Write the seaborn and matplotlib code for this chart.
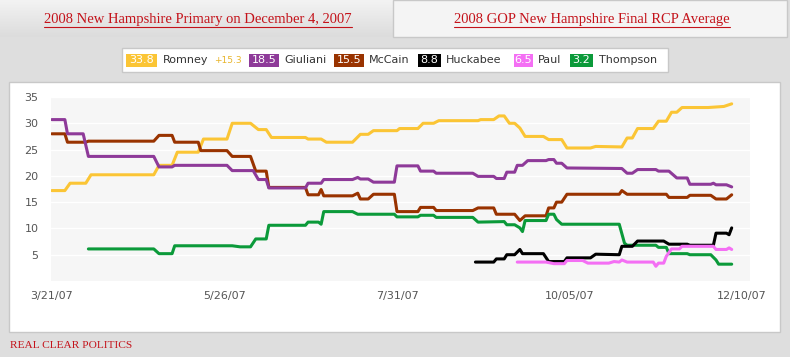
import pandas as pd
import numpy as np
import matplotlib
matplotlib.use("Agg")
import matplotlib.pyplot as plt
import seaborn as sns
from matplotlib.patches import Rectangle
from matplotlib.lines import Line2D

# candidates, latest RCP average and colours
candidates = ["Romney", "Giuliani", "McCain", "Huckabee", "Paul", "Thompson"]
latest = ["33.8", "18.5", "15.5", "8.8", "6.5", "3.2"]
spread = "+15.3"
colors = ["#fbc535", "#8e3a99", "#993300", "#000000", "#f46ff4", "#0b9a3a"]

# poll averages (month/day, 2007)
romney_dates = ["3/21", "3/26", "3/28", "4/3", "4/5", "4/29", "5/1", "5/6", "5/8", "5/16",
                "5/18", "5/27", "5/29", "6/5", "6/8", "6/11", "6/13", "6/26", "6/27", "7/2",
                "7/4", "7/14", "7/17", "7/20", "7/22", "7/31", "8/1", "8/8", "8/10", "8/14",
                "8/16", "8/31", "9/1", "9/6", "9/8", "9/10", "9/12", "9/14", "9/16", "9/18",
                "9/25", "9/27", "10/2", "10/4", "10/13", "10/15", "10/25", "10/27", "10/29",
                "10/31", "11/6", "11/8", "11/11", "11/13", "11/15", "11/17", "11/27", "12/3", "12/6"]
romney_vals = [17.2, 17.2, 18.6, 18.6, 20.2, 20.2, 22.0, 22.0, 24.5, 24.5,
               27.0, 27.0, 30.0, 30.0, 28.8, 28.8, 27.3, 27.3, 27.0, 27.0,
               26.4, 26.4, 27.9, 27.9, 28.6, 28.6, 29.0, 29.0, 30.0, 30.0,
               30.5, 30.5, 30.7, 30.7, 31.4, 31.4, 30.0, 30.0, 29.1, 27.5,
               27.5, 26.9, 26.9, 25.3, 25.3, 25.6, 25.5, 27.2, 27.2,
               29.0, 29.0, 30.4, 30.4, 32.1, 32.1, 33.0, 33.0, 33.2, 33.7]

giuliani_dates = ["3/21", "3/26", "3/27", "4/2", "4/4", "4/29", "5/1", "5/6", "5/7", "5/27",
                  "5/29", "6/6", "6/8", "6/11", "6/12", "6/26", "6/27", "7/2", "7/3", "7/14",
                  "7/16", "7/17", "7/20", "7/22", "7/30", "7/31", "8/8", "8/9", "8/14", "8/15",
                  "8/29", "8/31", "9/6", "9/7", "9/10", "9/11", "9/14", "9/15", "9/17", "9/19",
                  "9/26", "9/27", "9/29", "9/30", "10/2", "10/4", "10/25", "10/27", "10/29",
                  "10/31", "11/7", "11/8", "11/12", "11/15", "11/19", "11/20", "11/28", "11/29",
                  "11/30", "12/4", "12/6"]
giuliani_vals = [30.7, 30.7, 28.0, 28.0, 23.7, 23.7, 21.7, 21.7, 22.0, 22.0,
                 21.0, 21.0, 19.3, 19.3, 17.7, 17.7, 18.6, 18.6, 19.3, 19.3,
                 19.7, 19.4, 19.4, 18.8, 18.8, 21.9, 21.9, 20.9, 20.9, 20.5,
                 20.5, 19.9, 19.9, 19.5, 19.5, 20.7, 20.7, 22.0, 22.0, 22.9,
                 22.9, 23.1, 23.1, 22.4, 22.4, 21.5, 21.4, 20.5, 20.5,
                 21.2, 21.2, 20.9, 20.9, 19.6, 19.6, 18.4, 18.4, 18.6,
                 18.3, 18.3, 17.9]

mccain_dates = ["3/21", "3/26", "3/27", "4/3", "4/4", "4/29", "5/1", "5/6", "5/7", "5/16",
                "5/17", "5/27", "5/29", "6/5", "6/7", "6/11", "6/12", "6/26", "6/27", "7/1",
                "7/2", "7/3", "7/14", "7/16", "7/17", "7/20", "7/22", "7/30", "7/31", "8/8",
                "8/9", "8/14", "8/15", "8/29", "8/31", "9/6", "9/7", "9/14", "9/16", "9/18",
                "9/26", "9/27", "9/29", "9/30", "10/2", "10/4", "10/24", "10/25", "10/27",
                "11/11", "11/12", "11/19", "11/20", "11/28", "11/30", "12/4", "12/6"]
mccain_vals = [28.0, 28.0, 26.4, 26.4, 26.6, 26.6, 27.7, 27.7, 26.4, 26.4,
               24.8, 24.8, 23.7, 23.7, 20.9, 20.9, 17.8, 17.8, 16.4, 16.4,
               17.4, 16.2, 16.2, 16.7, 15.6, 15.6, 16.5, 16.5, 13.2, 13.2,
               14.0, 14.0, 13.4, 13.4, 13.9, 13.9, 12.7, 12.7, 11.5, 12.4,
               12.4, 13.9, 13.9, 15.0, 15.0, 16.5, 16.5, 17.2, 16.5,
               16.5, 15.9, 15.9, 16.3, 16.3, 15.6, 15.6, 16.4]

huckabee_dates = ["8/30", "9/6", "9/7", "9/10", "9/11", "9/14", "9/16", "9/17", "9/25", "9/27",
                  "10/3", "10/4", "10/13", "10/15", "10/24", "10/25", "10/29", "10/31", "11/10",
                  "11/12", "11/19", "11/20", "11/29", "11/30", "12/4", "12/5", "12/6"]
huckabee_vals = [3.6, 3.6, 4.2, 4.2, 5.0, 5.0, 6.0, 5.2, 5.2, 3.7,
                 3.7, 4.4, 4.4, 5.1, 5.0, 6.6, 6.6, 7.6, 7.6,
                 7.0, 7.0, 6.8, 6.8, 9.1, 9.1, 8.8, 10.1]

paul_dates = ["9/15", "9/26", "9/29", "10/3", "10/4", "10/10", "10/12", "10/20", "10/22", "10/24",
              "10/25", "10/27", "11/6", "11/7", "11/8", "11/10", "11/11", "11/13", "11/16",
              "11/17", "11/29", "11/30", "12/4", "12/5", "12/6"]
paul_vals = [3.6, 3.6, 3.3, 3.3, 3.9, 3.9, 3.4, 3.4, 3.7, 3.6,
             4.0, 3.6, 3.6, 2.8, 3.4, 3.4, 4.7, 6.1, 6.1,
             6.6, 6.6, 6.0, 6.0, 6.3, 6.0]

thompson_dates = ["4/4", "4/29", "5/1", "5/6", "5/7", "5/29", "6/1", "6/5", "6/7", "6/11",
                  "6/12", "6/26", "6/27", "7/1", "7/2", "7/3", "7/14", "7/16", "7/30", "7/31",
                  "8/8", "8/9", "8/14", "8/15", "8/29", "8/31", "9/10", "9/11", "9/14", "9/16",
                  "9/17", "9/18", "9/26", "9/27", "9/29", "9/30", "10/2", "10/24", "10/26",
                  "10/27", "11/7", "11/8", "11/11", "11/12", "11/19", "11/20", "11/28", "11/30",
                  "12/1", "12/6"]
thompson_vals = [6.1, 6.1, 5.2, 5.2, 6.7, 6.7, 6.5, 6.5, 8.0, 8.0,
                 10.6, 10.6, 11.2, 11.2, 10.8, 13.2, 13.2, 12.7, 12.7, 12.2,
                 12.2, 12.5, 12.5, 12.1, 12.1, 11.2, 11.3, 10.7, 10.7, 10.1,
                 9.4, 11.5, 11.5, 12.7, 12.7, 11.7, 10.8, 10.8, 7.2,
                 6.8, 6.8, 6.4, 6.4, 5.2, 5.2, 5.0, 5.0, 4.0,
                 3.2, 3.2]

tick_dates = ["3/21", "5/26", "7/31", "10/5", "12/10"]
tick_labels = ["3/21/07", "5/26/07", "7/31/07", "10/05/07", "12/10/07"]

series = {
    "Romney": (romney_dates, romney_vals),
    "Giuliani": (giuliani_dates, giuliani_vals),
    "McCain": (mccain_dates, mccain_vals),
    "Huckabee": (huckabee_dates, huckabee_vals),
    "Paul": (paul_dates, paul_vals),
    "Thompson": (thompson_dates, thompson_vals),
}


def to_date(md):
    return pd.to_datetime([d + "/2007" for d in md], format="%m/%d/%Y")


frames = []
for name, (d, v) in series.items():
    frames.append(pd.DataFrame({"date": to_date(d), "value": v, "candidate": name}))
df = pd.concat(frames, ignore_index=True)

W, H = 790, 357


def fx(px):
    return px / W


def fy(py):
    return 1 - py / H


sns.set_style("white")
fig = plt.figure(figsize=(W / 100, H / 100), dpi=100)
fig.patch.set_facecolor("#dedede")

# left tab gradient
tab = fig.add_axes([0, fy(37), fx(393), 37 / H])
tab.set_zorder(-3)
grad = np.linspace(0, 1, 50).reshape(-1, 1)
tab.imshow(grad, aspect="auto", cmap=matplotlib.colors.LinearSegmentedColormap.from_list(
    "g", ["#f3f3f3", "#dcdcdc"]), extent=[0, 1, 0, 1])
tab.axis("off")

# right tab, legend box and chart panel (behind the axes)
for (x0, y0, x1, y1, fc) in [(393, 0, 787, 37, "#f4f4f4"),
                             (122, 48, 668, 72, "white"),
                             (9, 82, 780, 332, "white")]:
    fig.patches.append(Rectangle((fx(x0), fy(y1)), fx(x1) - fx(x0), (y1 - y0) / H,
                                 transform=fig.transFigure, facecolor=fc,
                                 edgecolor="#c8c8c8", linewidth=1, zorder=-2))

red = "#c4121a"
serif = ["Liberation Serif", "DejaVu Serif"]
t1 = fig.text(fx(198), fy(19), "2008 New Hampshire Primary on December 4, 2007",
              ha="center", va="center", color=red, fontsize=10.5, family=serif)
t2 = fig.text(fx(592), fy(19), "2008 GOP New Hampshire Final RCP Average",
              ha="center", va="center", color=red, fontsize=10.5, family=serif)
fig.text(fx(10), fy(346), "REAL CLEAR POLITICS", ha="left", va="center",
         color=red, fontsize=8.2, family=serif)

# legend row
box_left = [126, 249, 334, 418, 514, 570]
box_right = [157, 279, 364, 441, 533, 593]
name_x = [163, 284, 369, 446, 538, 599]
for i, name in enumerate(candidates):
    fig.patches.append(Rectangle((fx(box_left[i]), fy(66.5)), fx(box_right[i]) - fx(box_left[i]),
                                 13 / H, transform=fig.transFigure,
                                 facecolor=colors[i], edgecolor="none", zorder=-1))
    fig.text(fx((box_left[i] + box_right[i]) / 2), fy(60), latest[i], ha="center",
             va="center", color="white", fontsize=8)
    fig.text(fx(name_x[i]), fy(60), name, ha="left", va="center", color="#333333",
             fontsize=8)
fig.text(fx(214), fy(60.5), spread, ha="left", va="center", color="#e8b52a", fontsize=6.5)

# chart
ax = fig.add_axes([fx(51), fy(281), fx(750) - fx(51), (281 - 97) / H])
ax.set_zorder(2)
ax.set_facecolor("#f6f6f6")
draw_order = ["Romney", "McCain", "Giuliani", "Thompson", "Huckabee", "Paul"]
sns.lineplot(data=df, x="date", y="value", hue="candidate", hue_order=draw_order,
             palette=dict(zip(candidates, colors)), estimator=None, sort=False,
             legend=False, linewidth=2.2, ax=ax)
ax.set_ylim(0, 35)
ax.set_yticks([5, 10, 15, 20, 25, 30, 35])
start = pd.Timestamp("2007-03-21")
ax.set_xlim(start - pd.Timedelta(days=0.3), start + pd.Timedelta(days=267))
ax.set_xticks(to_date(tick_dates))
ax.set_xticklabels(tick_labels)
ax.grid(axis="y", color="white", linewidth=1)
ax.grid(axis="x", visible=False)
for s in ax.spines.values():
    s.set_visible(False)
ax.tick_params(axis="both", length=0, labelsize=8, labelcolor="#555555")
ax.tick_params(axis="y", pad=9)
ax.tick_params(axis="x", pad=7)
ax.set_xlabel("")
ax.set_ylabel("")

# underline tab titles
fig.canvas.draw()
for t in (t1, t2):
    bb = t.get_window_extent()
    fig.lines.append(Line2D([bb.x0 / W, bb.x1 / W], [fy(27), fy(27)],
                            transform=fig.transFigure, color=red, linewidth=0.8))

fig.savefig("out.png", dpi=100, facecolor=fig.get_facecolor())
